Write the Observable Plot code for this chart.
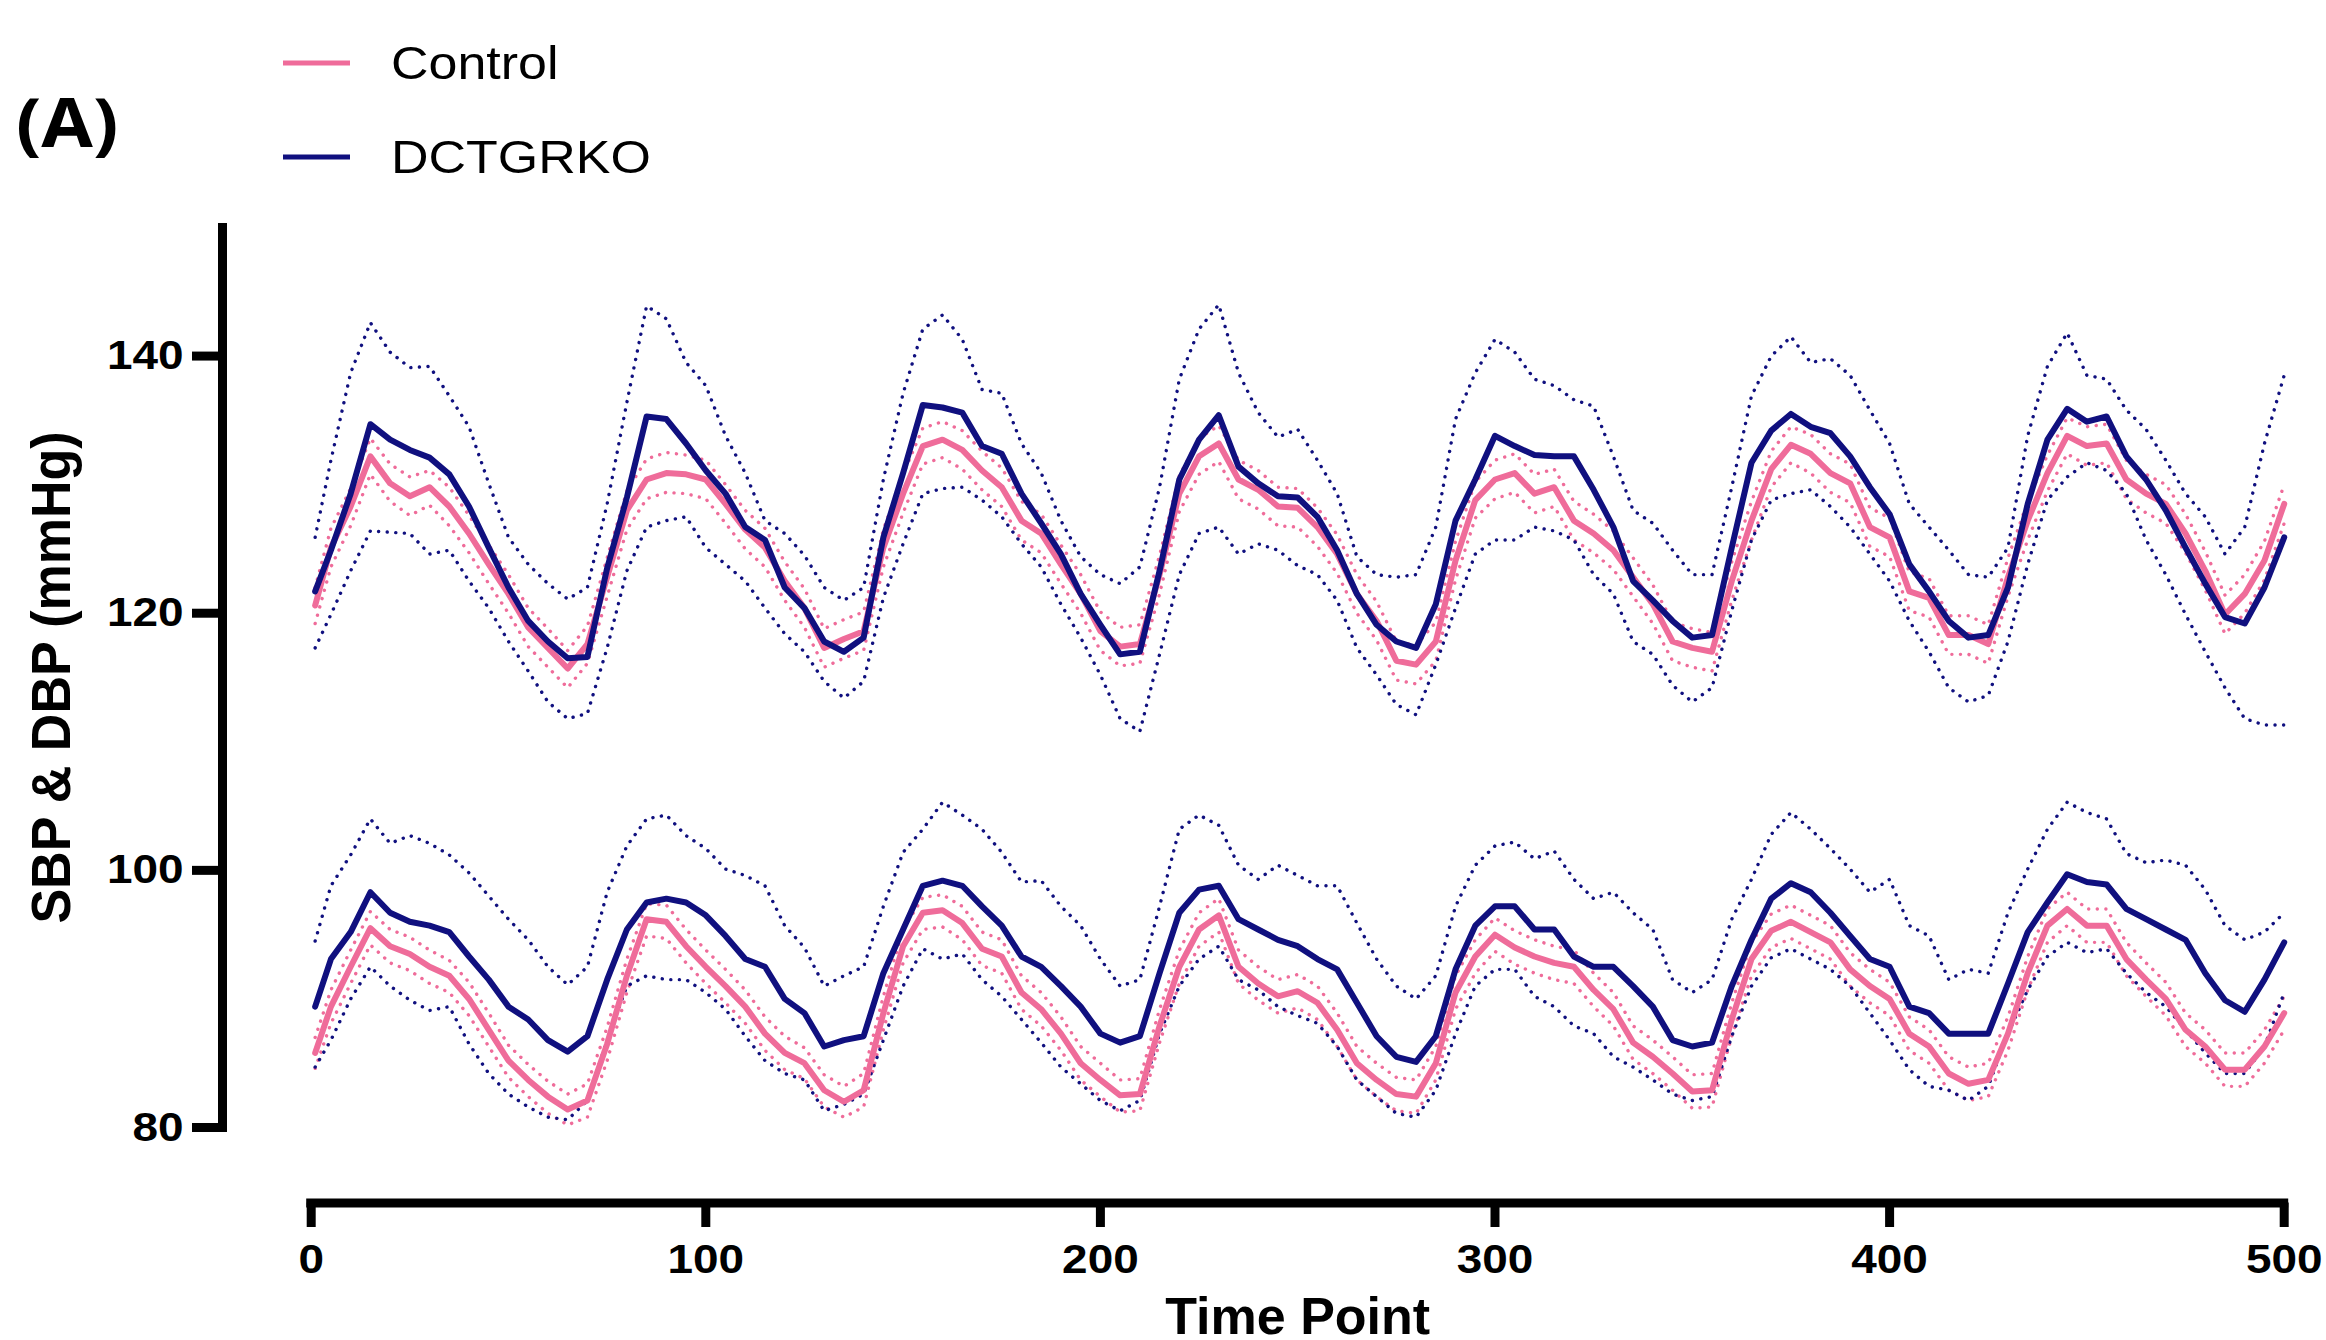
<!DOCTYPE html>
<html>
<head>
<meta charset="utf-8">
<script src="https://cdn.jsdelivr.net/npm/d3@7"></script>
<script src="https://cdn.jsdelivr.net/npm/@observablehq/plot@0.6"></script>
<style>
  html, body { margin: 0; padding: 0; background: #fff; }
  #wrap { width: 2326px; }
  #wrap svg { display: block; }
  #msg { position: absolute; left: 800px; top: 10px; color: red; font: 30px sans-serif; }
</style>
</head>
<body>
<div id="wrap"></div>
<div id="msg"></div>
<script>
// ---------- data ----------
const panelLabel = "(A)";
const groups = ["Control", "DCTGRKO"];
const groupColors = ["#EF6C9A", "#10107F"];
const xTicks = [0, 100, 200, 300, 400, 500];
const yTicks = [80, 100, 120, 140];
const xTitle = "Time Point";
const yTitle = "SBP & DBP (mmHg)";

const timePoints = [
  1, 5, 10, 15, 20, 25, 30, 35, 40, 45, 50, 55, 60, 65, 70, 75, 80, 85, 90, 95, 100, 105, 110, 115, 120, 125,
  130, 135, 140, 145, 150, 155, 160, 165, 170, 175, 180, 185, 190, 195, 200, 205, 210, 215, 220, 225, 230, 235, 240, 245, 250,
  255, 260, 265, 270, 275, 280, 285, 290, 295, 300, 305, 310, 315, 320, 325, 330, 335, 340, 345, 350, 355, 360, 365, 370, 375,
  380, 385, 390, 395, 400, 405, 410, 415, 420, 425, 430, 435, 440, 445, 450, 455, 460, 465, 470, 475, 480, 485, 490, 495, 500
];

// SBP, DCTGRKO
const dctSBP = [
  121.7,124.9,129.3,134.7,133.5,132.7,132.1,130.8,128.3,125.1,122.0,119.4,117.8,116.5,116.6,123.5,129.0,135.3,135.1,133.2,131.1,129.3,126.7,125.7,122.0,120.4,
  117.8,117.0,118.1,125.9,130.9,136.2,136.0,135.6,133.0,132.4,129.3,127.0,124.6,121.5,119.1,116.8,117.0,123.3,130.4,133.5,135.4,131.4,130.1,129.1,129.0,
  127.5,124.9,121.5,119.1,117.8,117.3,120.7,127.2,130.4,133.8,133.0,132.3,132.2,132.2,129.6,126.7,122.5,121.0,119.4,118.1,118.3,125.1,131.7,134.2,135.5,
  134.5,134.0,132.2,129.8,127.7,123.8,121.7,119.4,118.1,118.3,122.0,128.5,133.5,135.9,134.9,135.3,132.2,130.4,128.0,125.1,122.3,119.7,119.2,122.0,125.9
];
const dctSBPUpper = [
  125.9,131.9,138.7,142.6,140.3,139.1,139.2,136.9,134.5,130.1,125.9,123.8,122.3,121.1,122.0,128.5,136.4,143.9,142.9,139.5,137.7,133.8,130.9,127.2,126.2,124.5,
  122.0,121.0,122.0,130.4,137.1,142.1,143.2,141.3,137.4,137.1,133.2,130.9,127.2,124.4,123.0,122.3,123.6,129.8,138.2,142.1,144.0,138.7,135.6,133.7,134.3,
  131.9,129.3,124.4,123.0,122.8,123.0,126.7,135.1,138.7,141.3,140.3,138.2,137.7,136.6,136.1,132.2,128.0,127.0,124.9,123.0,123.0,129.8,136.9,140.0,141.5,
  139.5,139.8,138.5,135.8,133.2,128.5,126.7,124.9,123.0,122.8,125.1,133.8,139.2,141.8,138.5,138.2,135.8,134.3,131.9,129.3,127.5,124.6,126.7,133.2,138.5
];
const dctSBPLower = [
  117.3,119.9,123.3,126.4,126.3,126.2,124.6,124.9,122.5,120.4,117.8,115.5,113.1,111.8,112.2,117.3,123.3,126.7,127.2,127.5,125.1,123.8,122.5,120.4,118.4,117.0,
  114.7,113.4,114.7,121.2,125.4,129.3,129.7,129.8,128.8,127.5,125.4,123.6,120.7,118.1,115.2,111.8,110.8,116.8,123.0,126.2,126.7,124.6,125.4,124.9,123.7,
  123.0,121.0,117.3,115.2,112.9,112.1,116.0,120.4,124.6,125.7,125.7,126.7,126.4,125.7,123.0,121.5,117.8,116.8,114.4,113.1,114.2,120.2,125.7,128.8,129.3,
  129.6,128.3,126.7,124.6,122.5,119.4,117.0,114.2,113.1,113.6,117.8,123.8,128.8,130.6,131.7,131.1,129.3,125.7,123.0,119.9,117.0,114.2,111.8,111.3,111.3
];

// SBP, Control
const controlSBP = [
  120.6,125.1,128.3,132.2,130.1,129.1,129.8,128.3,126.2,123.8,121.5,118.9,117.3,115.7,117.6,122.8,128.0,130.4,130.9,130.8,130.4,128.5,126.5,125.1,122.5,120.4,
  117.3,118.0,118.6,125.1,129.3,133.0,133.5,132.7,131.1,129.8,127.2,126.2,123.8,121.5,118.6,117.4,117.6,123.0,129.3,132.2,133.2,130.4,129.6,128.3,128.2,
  126.7,124.6,121.5,119.4,116.3,116.0,117.8,124.1,128.8,130.4,130.9,129.3,129.8,127.2,126.2,124.9,122.8,120.7,117.8,117.3,117.0,122.5,127.2,131.2,133.1,
  132.4,130.9,130.1,126.7,125.9,121.7,121.2,118.3,118.3,117.6,122.8,127.2,130.9,133.8,133.0,133.2,130.4,129.3,128.5,126.2,123.3,119.9,121.5,124.1,128.5
];
const controlSBPUpper = [
  122.0,126.6,129.7,133.6,131.6,130.6,131.1,129.8,127.6,125.3,123.0,120.4,118.8,117.1,119.0,124.3,129.5,132.0,132.5,132.3,131.9,130.0,128.0,126.6,124.0,121.9,
  118.8,119.5,120.1,126.5,130.8,134.4,134.9,134.2,132.6,131.3,128.7,127.7,125.3,123.0,120.1,118.9,119.1,124.5,130.7,133.6,134.6,131.9,131.1,129.8,129.7,
  128.2,126.1,123.0,120.9,117.8,117.5,119.3,125.6,130.2,131.9,132.4,130.8,131.2,128.7,127.7,126.4,124.3,122.2,119.3,118.8,118.5,124.0,128.7,132.6,134.5,
  133.9,132.4,131.6,128.2,127.4,123.2,122.7,119.8,119.8,119.1,124.3,128.7,132.3,135.2,134.5,134.7,131.9,130.8,130.0,127.7,124.8,121.4,123.0,125.6,130.0
];
const controlSBPLower = [
  119.2,123.6,126.8,130.8,128.7,127.6,128.4,126.8,124.7,122.3,120.0,117.4,115.8,114.2,116.1,121.3,126.5,128.9,129.4,129.3,128.9,127.0,125.0,123.6,121.0,118.9,
  115.8,116.5,117.1,123.6,127.8,131.6,132.1,131.2,129.6,128.3,125.7,124.7,122.3,120.0,117.1,115.9,116.1,121.5,127.9,130.8,131.8,128.9,128.1,126.8,126.7,
  125.2,123.1,120.0,117.9,114.8,114.5,116.3,122.6,127.4,128.9,129.4,127.8,128.3,125.7,124.7,123.4,121.3,119.2,116.3,115.8,115.5,121.0,125.7,129.8,131.7,
  130.9,129.4,128.6,125.2,124.4,120.2,119.7,116.8,116.8,116.1,121.3,125.7,129.5,132.4,131.5,131.7,128.9,127.8,127.0,124.7,121.8,118.4,120.0,122.6,127.0
];

// DBP, DCTGRKO
const dctDBP = [
  89.4,93.1,95.2,98.3,96.7,96.0,95.7,95.2,93.3,91.5,89.4,88.4,86.8,85.9,87.1,91.5,95.4,97.5,97.8,97.5,96.5,94.9,93.1,92.5,90.0,88.9,
  86.3,86.8,87.1,92.0,95.4,98.8,99.2,98.8,97.2,95.7,93.3,92.5,91.0,89.4,87.3,86.6,87.1,92.0,96.7,98.5,98.8,96.2,95.4,94.6,94.1,
  93.1,92.3,89.7,87.1,85.5,85.1,87.1,92.3,95.7,97.2,97.2,95.4,95.4,93.3,92.5,92.5,91.0,89.4,86.8,86.3,86.6,91.0,94.6,97.8,99.0,
  98.3,96.7,94.9,93.1,92.5,89.4,88.9,87.3,87.3,87.3,91.2,95.2,97.5,99.7,99.1,98.9,97.0,96.2,95.4,94.6,92.0,89.9,89.0,91.5,94.4
];
const dctDBPUpper = [
  94.5,98.8,101.2,104.0,102.1,102.7,102.1,101.2,99.8,98.0,96.2,94.6,92.5,91.1,92.5,98.3,101.9,104.0,104.3,102.7,101.7,100.1,99.6,98.8,95.7,94.0,
  91.0,91.8,92.5,97.2,101.4,103.2,105.3,104.3,103.2,101.4,99.1,99.2,97.2,95.7,93.1,91.0,91.5,97.2,103.2,104.3,103.5,100.4,99.3,100.4,99.6,
  98.8,98.8,95.9,93.1,91.0,90.0,91.8,97.2,100.4,101.9,102.2,100.9,101.5,99.3,97.8,98.3,96.7,95.4,91.5,90.5,91.5,96.2,99.3,102.8,104.5,
  103.2,101.7,100.1,98.3,99.3,95.7,94.9,91.5,92.3,92.0,96.7,100.1,103.2,105.3,104.5,104.0,101.3,100.6,100.8,100.4,98.5,95.7,94.6,95.2,96.7
];
const dctDBPLower = [
  84.7,86.8,90.0,92.5,91.0,89.9,89.1,89.4,86.5,84.2,82.6,81.6,80.8,80.6,82.1,86.8,91.0,91.8,91.5,91.5,90.5,89.2,87.1,85.2,84.2,83.7,
  81.3,81.8,82.6,86.8,91.0,93.9,93.1,93.5,91.5,90.2,88.4,86.6,84.7,83.4,82.1,81.3,82.1,87.3,91.0,93.1,94.1,91.5,90.7,89.4,88.7,
  88.1,86.3,83.7,82.4,81.1,80.8,82.9,87.3,91.0,92.3,92.3,90.2,89.4,87.9,87.3,85.5,84.7,83.7,82.6,82.1,82.4,87.1,91.0,93.2,93.9,
  93.1,92.3,91.0,88.9,86.8,84.5,83.2,82.9,82.1,83.2,87.3,90.7,93.3,94.4,93.6,93.9,92.0,90.5,89.4,87.6,85.8,84.2,84.2,86.3,90.5
];

// DBP, Control
const controlDBP = [
  85.8,89.4,92.5,95.5,94.1,93.5,92.5,91.8,90.0,87.6,85.2,83.7,82.4,81.4,82.1,86.5,91.8,96.2,96.0,94.1,92.5,91.0,89.4,87.3,85.8,85.0,
  82.9,82.0,82.9,88.9,94.1,96.7,96.9,95.9,93.9,93.3,90.5,89.2,87.3,85.0,83.7,82.5,82.6,87.9,92.5,95.4,96.5,92.5,91.2,90.2,90.6,
  89.7,87.6,85.0,83.7,82.6,82.4,85.0,90.5,93.3,95.0,94.0,93.3,92.8,92.5,90.7,89.2,86.6,85.5,84.2,82.8,82.9,88.4,93.1,95.3,96.0,
  95.2,94.4,92.3,91.0,90.0,87.3,86.3,84.2,83.4,83.7,87.3,92.0,95.7,97.0,95.7,95.7,93.1,91.5,90.0,87.6,86.3,84.5,84.5,86.3,88.9
];
const controlDBPUpper = [
  87.0,90.7,93.8,96.8,95.4,94.8,93.8,93.0,91.3,88.9,86.4,84.9,83.6,82.6,83.4,87.8,93.1,97.4,97.3,95.4,93.8,92.3,90.7,88.6,87.1,86.2,
  84.1,83.2,84.2,90.2,95.4,97.9,98.1,97.2,95.2,94.6,91.8,90.5,88.6,86.3,85.0,83.7,83.8,89.2,93.8,96.7,97.8,93.8,92.5,91.5,91.9,
  91.0,88.9,86.3,85.0,83.9,83.7,86.3,91.8,94.6,96.3,95.3,94.6,94.1,93.8,92.0,90.5,87.9,86.8,85.5,84.1,84.2,89.7,94.4,96.6,97.3,
  96.5,95.7,93.6,92.3,91.3,88.6,87.6,85.5,84.7,85.0,88.6,93.3,97.0,98.3,97.0,97.0,94.4,92.8,91.3,88.9,87.6,85.8,85.8,87.6,90.2
];
const controlDBPLower = [
  84.6,88.1,91.2,94.2,92.8,92.2,91.2,90.5,88.7,86.3,83.9,82.4,81.1,80.2,80.8,85.2,90.5,94.9,94.7,92.8,91.2,89.7,88.1,86.0,84.5,83.8,
  81.6,80.8,81.6,87.6,92.8,95.4,95.6,94.6,92.6,92.0,89.2,87.9,86.0,83.7,82.4,81.2,81.3,86.6,91.2,94.1,95.2,91.2,89.9,88.9,89.3,
  88.4,86.3,83.7,82.4,81.3,81.1,83.7,89.2,92.0,93.7,92.7,92.0,91.5,91.2,89.4,87.9,85.3,84.2,82.9,81.5,81.6,87.1,91.8,94.0,94.7,
  93.9,93.1,91.0,89.7,88.7,86.0,85.0,82.9,82.1,82.4,86.0,90.7,94.4,95.7,94.4,94.4,91.8,90.2,88.7,86.3,85.0,83.2,83.2,85.0,87.6
];

// ---------- build table ----------
const seriesList = [
  {name: "ctlSBPu", group: "Control", kind: "sem", values: controlSBPUpper},
  {name: "ctlSBPl", group: "Control", kind: "sem", values: controlSBPLower},
  {name: "ctlDBPu", group: "Control", kind: "sem", values: controlDBPUpper},
  {name: "ctlDBPl", group: "Control", kind: "sem", values: controlDBPLower},
  {name: "dctSBPu", group: "DCTGRKO", kind: "sem", values: dctSBPUpper},
  {name: "dctSBPl", group: "DCTGRKO", kind: "sem", values: dctSBPLower},
  {name: "dctDBPu", group: "DCTGRKO", kind: "sem", values: dctDBPUpper},
  {name: "dctDBPl", group: "DCTGRKO", kind: "sem", values: dctDBPLower},
  {name: "ctlSBP", group: "Control", kind: "mean", values: controlSBP},
  {name: "ctlDBP", group: "Control", kind: "mean", values: controlDBP},
  {name: "dctSBP", group: "DCTGRKO", kind: "mean", values: dctSBP},
  {name: "dctDBP", group: "DCTGRKO", kind: "mean", values: dctDBP}
];
const bad = seriesList.filter(s => s.values.length !== timePoints.length).map(s => s.name + ":" + s.values.length);
if (bad.length) document.getElementById("msg").textContent = "length mismatch " + timePoints.length + " " + bad.join(", ");

const rows = seriesList.flatMap(s => timePoints.map((t, i) => ({t, v: s.values[i], name: s.name, group: s.group, kind: s.kind})));
const semRows = rows.filter(d => d.kind === "sem");
const ctlMean = rows.filter(d => d.kind === "mean" && d.group === "Control");
const dctMean = rows.filter(d => d.kind === "mean" && d.group === "DCTGRKO");

// ---------- header (panel label + legend) ----------
const W = 2326;
const header = d3.select("#wrap").append("svg").attr("width", W).attr("height", 200)
  .style("font-family", "'Liberation Sans', Arial, sans-serif");
header.append("text").text(panelLabel)
  .attr("transform", "translate(16,147) scale(1.1,1)")
  .style("font-family", "'Open Sans', sans-serif").style("font-weight", 700).style("font-size", "68px");
const leg = header.selectAll("g.leg").data(groups).join("g").attr("class", "leg")
  .attr("transform", (d, i) => `translate(0,${[63, 157][i]})`);
leg.append("line").attr("x1", 283).attr("x2", 350).attr("y1", 0).attr("y2", 0)
  .attr("stroke", (d, i) => groupColors[i]).attr("stroke-width", 5);
leg.append("text").text(d => d).attr("transform", "translate(391,16) scale(1.13,1)")
  .style("font-size", "46px").attr("fill", "#000");

// ---------- chart ----------
const dyX = 75.5;
const xRange = [310.7, 2283.7];
const chart = Plot.plot({
  width: W,
  height: 1140,
  marginLeft: 222,
  marginRight: 42,
  marginTop: 27,
  marginBottom: 213,
  style: {fontFamily: "'Liberation Sans', Arial, sans-serif", background: "#fff", color: "#000", overflow: "visible"},
  x: {domain: [xTicks[0], xTicks[xTicks.length - 1]], range: xRange},
  y: {domain: [yTicks[0], 150], range: [927, 27]},
  color: {domain: groups, range: groupColors},
  marks: [
    Plot.line(semRows, {x: "t", y: "v", z: "name", stroke: "group", strokeWidth: 3.4,
      strokeDasharray: "0.1 8.5", strokeLinecap: "round", strokeLinejoin: "round"}),
    Plot.line(ctlMean, {x: "t", y: "v", z: "name", stroke: "group", strokeWidth: 6, strokeLinejoin: "round"}),
    Plot.line(dctMean, {x: "t", y: "v", z: "name", stroke: "group", strokeWidth: 6, strokeLinejoin: "round"}),
    Plot.frame({anchor: "left", strokeWidth: 9, strokeLinecap: "square"}),
    Plot.axisY({ticks: yTicks, tickSize: 30, tickPadding: 9, strokeWidth: 9, fontSize: 41, fontWeight: "bold",
      label: null, tickFormat: d => String(d)}),
    Plot.ruleY([yTicks[0]], {x1: xTicks[0], x2: xTicks[xTicks.length - 1], dy: dyX, strokeWidth: 9, strokeLinecap: "square"}),
    Plot.axisX({ticks: xTicks, tickSize: 24.5, tickPadding: 16, dy: dyX, strokeWidth: 9, fontSize: 41, fontWeight: "bold",
      label: null, tickFormat: d => String(d)}),
    Plot.text([yTitle], {frameAnchor: "left", dx: -170, rotate: -90, textAnchor: "middle", lineAnchor: "middle",
      fontSize: 52, fontWeight: "bold", text: d => d, className: "ytitle"}),
    Plot.text([xTitle], {frameAnchor: "bottom", dx: ((xRange[0] + xRange[1]) / 2) - (222 + (W - 42)) / 2, dy: 206,
      lineAnchor: "bottom", textAnchor: "middle", fontSize: 52, fontWeight: "bold", text: d => d})
  ]
});
document.getElementById("wrap").appendChild(chart);

// widen the tick labels slightly, as in the reference
d3.select(chart).selectAll('g[aria-label$="tick label"] text').each(function() {
  const tr = this.getAttribute("transform") || "";
  this.setAttribute("transform", tr + " scale(1.12,1)");
});
d3.select(chart).selectAll('g.ytitle text, g[class*="ytitle"] text').each(function() {
  const tr = this.getAttribute("transform") || "";
  this.setAttribute("transform", tr + " scale(1,1.06)");
});
</script>
</body>
</html>
